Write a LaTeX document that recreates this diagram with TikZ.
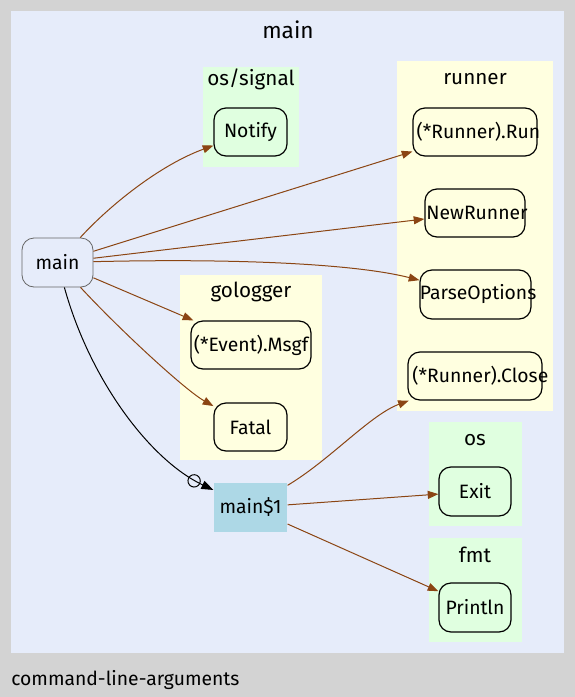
\documentclass[tikz,border=0pt]{standalone}
\usepackage{fontspec}
\setmainfont{Fira Sans}
\usetikzlibrary{arrows.meta}
\definecolor{bggray}{HTML}{D3D3D3}
\definecolor{lav}{HTML}{E6ECFA}
\definecolor{pkggreen}{HTML}{E0FFE0}
\definecolor{pkgyellow}{HTML}{FFFFE0}
\definecolor{lblue}{HTML}{ADD8E6}
\definecolor{edgebrown}{HTML}{8B4513}
\newcommand{\ztext}[1]{\makebox[0pt][c]{#1}}
\tikzset{
  fn/.style 2 args={draw=black, line width=0.9pt, rounded corners=9pt, inner sep=0pt,
    minimum width=#1*0.75pt, minimum height=#2*0.75pt, font=\fontsize{14.5}{16}\selectfont},
  ctitle/.style={font=\fontsize{15.5}{18}\selectfont, inner sep=0pt},
  edge/.style={draw=edgebrown, line width=0.75pt, -{Triangle[length=8pt,width=6pt]}},
}
\begin{document}
\begin{tikzpicture}[x=0.75pt,y=-0.75pt]
\useasboundingbox (0,0) rectangle (575,697);
\fill[bggray] (0,0) rectangle (575,697);
\fill[lav] (11,11) rectangle (564,653);
\node[font=\fontsize{17}{20}\selectfont, inner sep=0pt] (tmain) at (288,30) {main};
% clusters
\fill[pkggreen] (203,67) rectangle (299,167);
\node[ctitle] (tsig) at (251,79) {os/signal};
\fill[pkgyellow] (397,61) rectangle (553,411);
\node[ctitle] (trun) at (475,79) {runner};
\fill[pkgyellow] (180,275) rectangle (322,460);
\node[ctitle] (tlog) at (251,292) {gologger};
\fill[pkggreen] (429,422) rectangle (522,526);
\node[ctitle] (tos) at (475,440) {os};
\fill[pkggreen] (429,538) rectangle (522,642);
\node[ctitle] (tfmt) at (475,555) {fmt};
% nodes
\node[fn={73}{48}, fill=pkggreen] (notify) at (250.5,132) {\ztext{Notify}};
\node[fn={124}{48}, fill=pkgyellow] (run) at (475,132) {\ztext{\hspace*{5pt}(*Runner).Run}};
\node[fn={100}{48}, fill=pkgyellow] (newrunner) at (475,213) {\ztext{\hspace*{3pt}NewRunner}};
\node[fn={111}{49}, fill=pkgyellow] (parse) at (475.5,294.5) {\ztext{\hspace*{4pt}ParseOptions}};
\node[fn={134}{48}, fill=pkgyellow] (close) at (475,376) {\ztext{\hspace*{8pt}(*Runner).Close}};
\node[fn={71}{49}, fill=lav, draw=black!60, line width=0.6pt] (main) at (57.5,262.5) {\ztext{main}};
\node[fn={120}{48}, fill=pkgyellow] (msgf) at (251,345) {\ztext{(*Event).Msgf}};
\node[fn={73}{48}, fill=pkgyellow] (fatal) at (250.5,427) {\ztext{Fatal}};
\node[fn={73}{49}, fill=lblue, draw=none, rounded corners=0pt] (main1) at (250.5,507.5) {\ztext{main\$1}};
\node[fn={72}{49}, fill=pkggreen] (exit) at (475,491.5) {\ztext{Exit}};
\node[fn={72}{49}, fill=pkggreen] (println) at (475,607.5) {\ztext{Println}};
% edges
\draw[edge] (main) .. controls (110,205) and (160,165) .. (notify);
\draw[edge] (main) -- (run);
\draw[edge] (main) -- (newrunner);
\draw[edge] (main) .. controls (250,258) and (360,265) .. (parse);
\draw[edge] (main) -- (msgf);
\draw[edge] (main) .. controls (120,330) and (185,390) .. (fatal);
\draw[line width=0.75pt, -{Circle[open,length=10pt,width=10pt,sep=2pt]Triangle[length=9pt,width=6.5pt]}] (main) .. controls (90,380) and (150,460) .. (main1);
\draw[edge] (main1) .. controls (330,460) and (370,415) .. (close);
\draw[edge] (main1) -- (exit);
\draw[edge] (main1) -- (println);
\node[anchor=west, font=\fontsize{14.5}{17}\selectfont, inner sep=0pt] (label) at (11,680) {command-line-arguments};
\end{tikzpicture}
\end{document}
